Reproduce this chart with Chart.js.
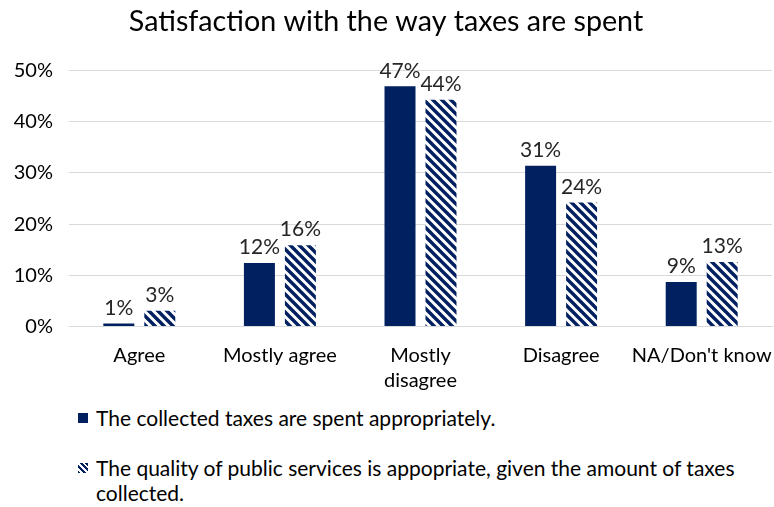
<!DOCTYPE html>
<html>
<head>
<meta charset="utf-8">
<script src="https://cdn.jsdelivr.net/npm/chart.js@4.4.1/dist/chart.umd.min.js"></script>
<style>
  body { margin: 0; background: #fff; }
  #wrap { position: relative; width: 774px; height: 507px; font-family: Lato, "Noto Sans", sans-serif; }
  #chartBox { position: absolute; left: 0; top: 0; width: 774px; height: 401px; }
  .legend { position: absolute; left: 78px; width: 670px; font-size: 21px; color: #000; line-height: 25px; }
  .legend .sw { position: absolute; left: 0; top: 8px; width: 10px; height: 10px; }
  .legend .txt { margin-left: 18px; }
  #leg1 { top: 405px; }
  #leg2 { top: 455px; }
  #leg1 .sw { background: #002060; }
  #leg2 .sw { background: repeating-linear-gradient(45deg, #002060 0 2px, #fff 2px 4px); }
</style>
</head>
<body>
<div id="wrap">
  <div id="chartBox"><canvas id="taxChart"></canvas></div>
  <div class="legend" id="leg1"><span class="sw"></span><div class="txt">The collected taxes are spent appropriately.</div></div>
  <div class="legend" id="leg2"><span class="sw"></span><div class="txt">The quality of public services is appopriate, given the amount of taxes collected.</div></div>
</div>
<script>
const categories = ['Agree', 'Mostly agree', ['Mostly', 'disagree'], 'Disagree', "NA/Don't know"];
const spentAppropriately = [0.6, 12.4, 46.9, 31.4, 8.7];
const servicesAppropriate = [3.1, 15.9, 44.3, 24.2, 12.6];
const yTicks = [0, 10, 20, 30, 40, 50];

const navy = '#002060';
const font = 'Lato, "Noto Sans", sans-serif';

// diagonal "\" stripes for the second series
function stripePattern() {
  const n = 9;
  const c = document.createElement('canvas');
  c.width = n; c.height = n;
  const g = c.getContext('2d');
  g.fillStyle = '#fff';
  g.fillRect(0, 0, n, n);
  g.strokeStyle = navy;
  g.lineWidth = 3.4;
  g.beginPath();
  g.moveTo(-2, -2); g.lineTo(n + 2, n + 2);
  g.moveTo(-n - 2, -2); g.lineTo(2, n + 2);
  g.moveTo(n - 2, -2); g.lineTo(2 * n + 2, n + 2);
  g.stroke();
  return g.createPattern(c, 'repeat');
}

// value labels above each bar
const barLabels = {
  id: 'barLabels',
  afterDatasetsDraw(chart) {
    const ctx = chart.ctx;
    ctx.save();
    ctx.font = '21px ' + font;
    ctx.fillStyle = '#262626';
    ctx.textAlign = 'center';
    ctx.textBaseline = 'bottom';
    chart.data.datasets.forEach((ds, i) => {
      chart.getDatasetMeta(i).data.forEach((bar, j) => {
        ctx.fillText(Math.round(ds.data[j]) + '%', bar.x, bar.y - 5);
      });
    });
    ctx.restore();
  }
};

new Chart(document.getElementById('taxChart'), {
  type: 'bar',
  data: {
    labels: categories,
    datasets: [
      { label: 'The collected taxes are spent appropriately.', data: spentAppropriately, backgroundColor: navy },
      { label: 'The quality of public services is appopriate, given the amount of taxes collected.', data: servicesAppropriate, backgroundColor: stripePattern() }
    ]
  },
  options: {
    responsive: true,
    maintainAspectRatio: false,
    animation: false,
    categoryPercentage: 0.583,
    barPercentage: 0.756,
    layout: { padding: { left: 0, right: 2, top: 0, bottom: 0 } },
    plugins: {
      legend: { display: false },
      tooltip: { enabled: false },
      title: {
        display: true,
        text: 'Satisfaction with the way taxes are spent',
        color: '#000',
        font: { family: font, size: 28.7, weight: 'normal' },
        padding: { top: 5, bottom: 31 }
      }
    },
    scales: {
      x: {
        grid: { display: false },
        border: { color: '#d9d9d9' },
        // let the last label run to the edge instead of shrinking the plot
        afterFit(axis) { axis.paddingLeft = 0; axis.paddingRight = 0; },
        ticks: { color: '#000', font: { family: font, size: 20, lineHeight: 1.26 }, padding: 8, maxRotation: 0, autoSkip: false }
      },
      y: {
        min: 0,
        max: 50,
        afterBuildTicks(axis) { axis.ticks = yTicks.map(v => ({ value: v })); },
        afterFit(axis) { axis.width = 69; },
        grid: { color: '#d9d9d9', drawTicks: false },
        border: { display: false },
        ticks: { color: '#000', font: { family: font, size: 20 }, padding: 16, callback: v => v + '%' }
      }
    }
  },
  plugins: [barLabels]
});
</script>
</body>
</html>
